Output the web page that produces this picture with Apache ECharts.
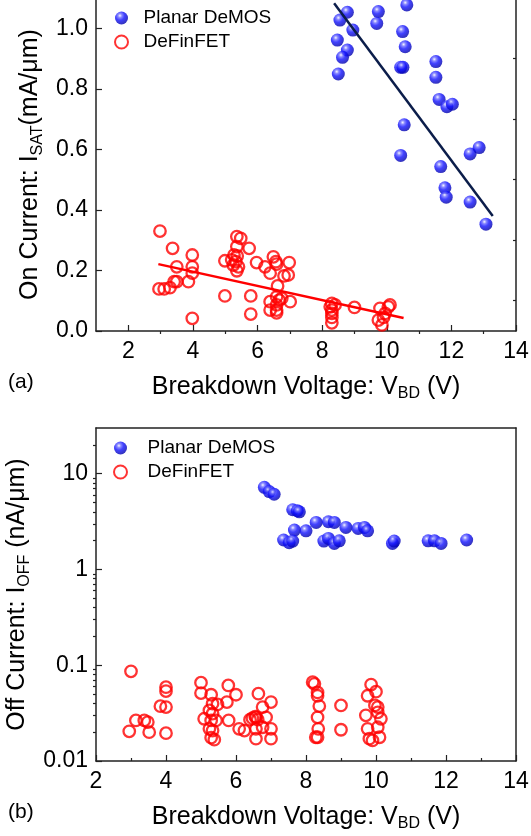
<!DOCTYPE html>
<html lang="en">
<head>
  <meta charset="UTF-8" />
  <title>DeMOS vs DeFinFET</title>
  <script src="https://cdn.jsdelivr.net/npm/echarts@6.0.0/dist/echarts.min.js"></script>
</head>
<body style="margin:0">
  <div id="main" style="width: 531px; height: 836px;"></div>
  <script>
    // (a) on current vs breakdown voltage, [V_BD, I_SAT]
    const planarOn = [
      [8.78, 1.053], [8.55, 1.027], [8.95, 0.994], [8.47, 0.961], [8.78, 0.928],
      [8.63, 0.904], [8.50, 0.849], [9.74, 1.055], [9.69, 1.016], [10.62, 1.077],
      [10.49, 0.989], [10.57, 0.939], [10.43, 0.871], [10.50, 0.871], [11.52, 0.890],
      [11.52, 0.838], [11.62, 0.765], [11.86, 0.741], [12.03, 0.749], [10.54, 0.681],
      [10.43, 0.580], [11.67, 0.543], [11.80, 0.473], [11.84, 0.442], [12.58, 0.585],
      [12.86, 0.606], [12.58, 0.426], [13.07, 0.353]
    ];
    const finOn = [
      [2.98, 0.330], [3.37, 0.273], [3.98, 0.251], [3.50, 0.212], [3.98, 0.212],
      [2.95, 0.139], [3.11, 0.139], [3.29, 0.143], [3.42, 0.163], [3.50, 0.163],
      [3.86, 0.163], [3.98, 0.191], [3.98, 0.042], [4.99, 0.232], [4.99, 0.116],
      [5.36, 0.312], [5.48, 0.306], [5.36, 0.279], [5.27, 0.251], [5.37, 0.248],
      [5.20, 0.235], [5.33, 0.229], [5.25, 0.218], [5.36, 0.199], [5.41, 0.212],
      [5.74, 0.273], [5.79, 0.116], [5.79, 0.056], [5.97, 0.226], [6.23, 0.212],
      [6.39, 0.191], [6.49, 0.245], [6.57, 0.229], [6.59, 0.221], [6.98, 0.226],
      [6.95, 0.185], [6.82, 0.182], [6.62, 0.149], [6.59, 0.113], [6.67, 0.102],
      [6.75, 0.108], [6.59, 0.086], [7.01, 0.097], [6.39, 0.069], [6.59, 0.060],
      [6.39, 0.097], [6.59, 0.069], [8.30, 0.091], [8.40, 0.086], [8.25, 0.080],
      [8.30, 0.069], [8.30, 0.058], [8.30, 0.045], [8.30, 0.027], [9.00, 0.078],
      [9.79, 0.075], [10.05, 0.080], [10.10, 0.086], [9.95, 0.058], [9.74, 0.036],
      [9.85, 0.020], [9.90, 0.045]
    ];
    // fitted trend lines, end points
    const planarFit = [[8.37, 1.083], [13.28, 0.380]];
    const finFit = [[2.93, 0.221], [10.52, 0.043]];

    // (b) off current vs breakdown voltage, [V_BD, I_OFF]
    const planarOff = [
      [6.81, 7.2], [6.95, 6.5], [7.09, 6.1], [7.62, 4.2], [7.75, 4.1], [7.81, 4.0],
      [7.67, 2.58], [8.00, 2.53], [8.29, 3.10], [8.64, 3.15], [8.81, 3.10], [9.14, 2.75],
      [9.49, 2.68], [9.67, 2.75], [9.76, 2.53], [7.36, 2.03], [7.52, 1.90], [7.62, 1.98],
      [8.51, 1.98], [8.64, 2.11], [8.81, 1.87], [8.95, 1.99], [10.47, 1.87], [10.52, 1.98],
      [11.49, 1.99], [11.67, 1.99], [11.86, 1.87], [12.59, 2.03]
    ];
    const finOff = [
      [3.00, 0.0863], [2.95, 0.0204], [3.14, 0.0265], [3.38, 0.0265], [3.48, 0.0255],
      [3.52, 0.020], [3.84, 0.0374], [4.00, 0.059], [4.00, 0.0537], [4.00, 0.0366],
      [4.00, 0.0195], [5.00, 0.0658], [5.00, 0.0512], [5.29, 0.0492], [5.33, 0.0397],
      [5.47, 0.039], [5.24, 0.0337], [5.33, 0.0312], [5.09, 0.0276], [5.29, 0.0265],
      [5.43, 0.0265], [5.24, 0.0217], [5.33, 0.0208], [5.29, 0.0175], [5.38, 0.0167],
      [5.78, 0.0616], [6.00, 0.0492], [5.74, 0.0412], [5.79, 0.0265], [6.09, 0.0217],
      [6.24, 0.0208], [6.40, 0.027], [6.47, 0.028], [6.55, 0.029], [6.62, 0.027],
      [6.64, 0.0505], [7.00, 0.0412], [6.76, 0.0366], [6.86, 0.0286], [6.57, 0.0286],
      [6.57, 0.0217], [7.00, 0.0217], [6.57, 0.0171], [7.00, 0.0171], [6.76, 0.0225],
      [8.19, 0.0666], [8.24, 0.064], [8.33, 0.052], [8.33, 0.048], [8.38, 0.0375],
      [8.33, 0.0286], [8.35, 0.0217], [8.33, 0.0177], [8.28, 0.0177], [9.00, 0.038],
      [9.00, 0.0212], [9.86, 0.0628], [10.00, 0.053], [9.76, 0.048], [9.97, 0.038],
      [10.05, 0.0366], [9.71, 0.030], [10.05, 0.0322], [10.14, 0.0276], [9.76, 0.0217],
      [10.05, 0.0225], [9.81, 0.0171], [10.10, 0.0177], [9.90, 0.0164]
    ];

    // tick values
    const xTicksA = [2, 4, 6, 8, 10, 12, 14];
    const xMinorA = [3, 5, 7, 9, 11, 13];
    const yMinorA = [0.1, 0.3, 0.5, 0.7, 0.9];
    const yTicksB = [0.01, 0.1, 1, 10];
    const yMinorB = [0.02, 0.03, 0.04, 0.05, 0.06, 0.07, 0.08, 0.09,
      0.2, 0.3, 0.4, 0.5, 0.6, 0.7, 0.8, 0.9, 2, 3, 4, 5, 6, 7, 8, 9, 20];

    const FONT = '"Liberation Sans", Arial, sans-serif';
    const AXIS_COLOR = "#222";

    const sphere = {
      type: "radial", x: 0.38, y: 0.32, r: 0.7,
      colorStops: [
        { offset: 0, color: "#f4f4ff" },
        { offset: 0.22, color: "#6a6aff" },
        { offset: 0.5, color: "#1212ff" },
        { offset: 1, color: "#0000a8" }
      ]
    };
    const hollow = { color: "rgba(255,255,255,0)", borderColor: "#ff0000", borderWidth: 2.3 };

    const nameRich = {
      n: { fontSize: 25, lineHeight: 30, fontFamily: FONT, color: "#000" },
      s: { fontSize: 16, lineHeight: 12, verticalAlign: "bottom", fontFamily: FONT, color: "#000" }
    };
    const labelStyle = { fontSize: 23, fontFamily: FONT, color: "#000" };

    function frameAxis(grid, pos) {
      return {
        gridIndex: grid, position: pos, type: "value",
        axisLine: { show: true, onZero: false, lineStyle: { color: AXIS_COLOR, width: 1.5 } },
        axisTick: { show: false }, axisLabel: { show: false }, splitLine: { show: false }
      };
    }
    function minorAxis(base, values) {
      return Object.assign({}, base, {
        name: "",
        axisLine: { show: false },
        axisLabel: { show: false },
        splitLine: { show: false },
        minorTick: { show: false },
        axisTick: { show: true, inside: true, length: 3, customValues: values,
          lineStyle: { color: AXIS_COLOR, width: 1.2 } }
      });
    }

    const xA = {
      gridIndex: 0, type: "value", min: 1, max: 14, interval: 1,
      name: "{n|Breakdown Voltage: V}{s|BD}{n| (V)}",
      nameLocation: "middle", nameGap: 41,
      nameTextStyle: { rich: nameRich },
      axisLine: { onZero: false, lineStyle: { color: AXIS_COLOR, width: 1.5 } },
      axisTick: { inside: true, length: 6, customValues: xTicksA, lineStyle: { color: AXIS_COLOR, width: 1.2 } },
      axisLabel: Object.assign({ margin: 9, customValues: xTicksA }, labelStyle),
      splitLine: { show: false }
    };
    const yA = {
      gridIndex: 0, type: "value", min: 0, max: 1.1, interval: 0.2,
      name: "{n|On Current: I}{s|SAT}{n|(mA/μm)}",
      nameLocation: "middle", nameGap: 47,
      nameTextStyle: { rich: nameRich },
      axisLine: { lineStyle: { color: AXIS_COLOR, width: 1.5 } },
      axisTick: { inside: true, length: 6, lineStyle: { color: AXIS_COLOR, width: 1.2 } },
      axisLabel: Object.assign({ margin: 8, showMaxLabel: false, formatter: (v) => v.toFixed(1) }, labelStyle),
      splitLine: { show: false }
    };
    const xB = {
      gridIndex: 1, type: "value", min: 2, max: 14, interval: 2,
      name: "{n|Breakdown Voltage: V}{s|BD}{n| (V)}",
      nameLocation: "middle", nameGap: 41,
      nameTextStyle: { rich: nameRich },
      axisLine: { onZero: false, lineStyle: { color: AXIS_COLOR, width: 1.5 } },
      axisTick: { inside: true, length: 6, lineStyle: { color: AXIS_COLOR, width: 1.2 } },
      minorTick: { show: true, splitNumber: 2, length: 3, lineStyle: { color: AXIS_COLOR, width: 1.2 } },
      axisLabel: Object.assign({ margin: 9 }, labelStyle),
      splitLine: { show: false }
    };
    const yB = {
      gridIndex: 1, type: "log", logBase: 10, min: 0.01, max: 30,
      name: "{n|Off Current: I}{s|OFF}{n| (nA/μm)}",
      nameLocation: "middle", nameGap: 63,
      nameTextStyle: { rich: nameRich },
      axisLine: { onZero: false, lineStyle: { color: AXIS_COLOR, width: 1.5 } },
      axisTick: { inside: true, length: 6, customValues: yTicksB, lineStyle: { color: AXIS_COLOR, width: 1.2 } },
      axisLabel: Object.assign({ margin: 8, customValues: yTicksB,
        formatter: (v) => String(+Number(v).toPrecision(3)) }, labelStyle),
      splitLine: { show: false }
    };

    const chart = echarts.init(document.getElementById("main"));
    chart.setOption({
      animation: false,
      textStyle: { fontFamily: FONT },
      grid: [
        { left: 96, right: 15, top: -2, height: 333, outerBoundsMode: "none" },
        { left: 96, right: 15, top: 428, height: 333, outerBoundsMode: "none" }
      ],
      xAxis: [
        xA,
        minorAxis(xA, xMinorA),
        frameAxis(0, "top"),
        xB,
        frameAxis(1, "top")
      ],
      yAxis: [
        yA,
        minorAxis(yA, yMinorA),
        frameAxis(0, "right"),
        yB,
        minorAxis(yB, yMinorB),
        frameAxis(1, "right")
      ],
      legend: [
        {
          data: ["Planar DeMOS", "DeFinFET"], orient: "vertical",
          left: 109, top: 3, itemWidth: 34, itemHeight: 13, itemGap: 4,
          textStyle: { fontSize: 19, lineHeight: 20, fontFamily: FONT, color: "#000" }
        },
        {
          data: ["Planar DeMOS", "DeFinFET"], orient: "vertical",
          left: 108, top: 433, itemWidth: 44, itemHeight: 13, itemGap: 4,
          textStyle: { fontSize: 19, lineHeight: 20, fontFamily: FONT, color: "#000" }
        }
      ],
      graphic: [
        { type: "text", style: { x: 8, y: 382, text: "(a)", font: "21px " + FONT, fill: "#000", verticalAlign: "middle" } },
        { type: "text", style: { x: 8, y: 812, text: "(b)", font: "21px " + FONT, fill: "#000", verticalAlign: "middle" } }
      ],
      series: [
        { name: "Planar DeMOS", type: "scatter", xAxisIndex: 0, yAxisIndex: 0, data: planarOn,
          symbol: "circle", symbolSize: 13, itemStyle: { color: sphere }, clip: false },
        { name: "DeFinFET", type: "scatter", xAxisIndex: 0, yAxisIndex: 0, data: finOn,
          symbol: "circle", symbolSize: 11.5, itemStyle: hollow },
        { name: "planarFit", type: "line", xAxisIndex: 0, yAxisIndex: 0, data: planarFit,
          showSymbol: false, lineStyle: { color: "#0b1d4a", width: 2.5 }, clip: false },
        { name: "finFit", type: "line", xAxisIndex: 0, yAxisIndex: 0, data: finFit,
          showSymbol: false, lineStyle: { color: "#ff0000", width: 2.5 } },
        { name: "Planar DeMOS", type: "scatter", xAxisIndex: 3, yAxisIndex: 3, data: planarOff,
          symbol: "circle", symbolSize: 13, itemStyle: { color: sphere } },
        { name: "DeFinFET", type: "scatter", xAxisIndex: 3, yAxisIndex: 3, data: finOff,
          symbol: "circle", symbolSize: 11.5, itemStyle: hollow }
      ]
    });
  </script>
</body>
</html>
